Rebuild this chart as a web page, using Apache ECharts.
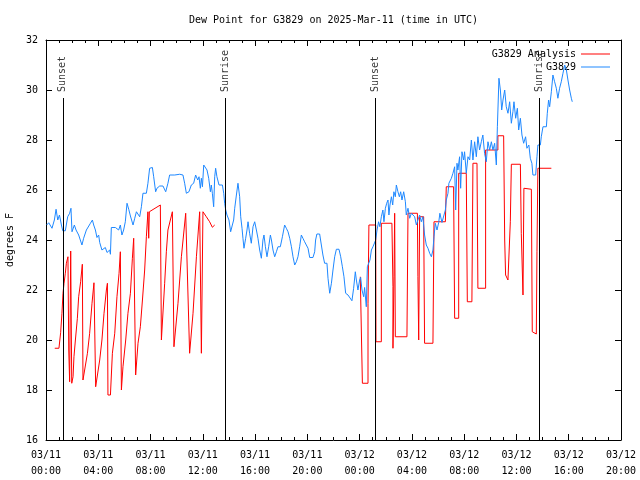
<!DOCTYPE html>
<html>
<head>
<meta charset="utf-8">
<script src="https://cdn.jsdelivr.net/npm/echarts@6/dist/echarts.min.js"></script>
<style>html,body{margin:0;padding:0;background:#fff}#c{width:640px;height:480px}</style>
</head>
<body>
<div id="c"></div>
<script>
// Hours since 2025-03-11 00:00 UTC, dew point in degrees F
const titleText = 'Dew Point for G3829 on 2025-Mar-11 (time in UTC)';
const seriesNames = ['G3829 Analysis', 'G3829'];
const xTicks = { min: 0, max: 44, step: 4 };
const yTicks = { min: 16, max: 32, step: 2 };
const sunEventHours = [1.30, 13.75, 25.23, 37.78];
const sunEventNames = ['Sunset', 'Sunrise', 'Sunset', 'Sunrise'];

const observed = [[0.05,24.6],[0.21,24.69],[0.46,24.47],[0.64,24.8],[0.77,25.23],[0.90,24.8],[1.03,25.0],[1.18,24.6],[1.28,24.37],[1.48,24.37],[1.66,24.93],[1.81,25.07],[1.91,25.27],[1.99,24.33],[2.17,24.6],[2.30,24.4],[2.50,24.2],[2.75,23.8],[2.88,24.07],[3.09,24.4],[3.40,24.67],[3.55,24.8],[3.65,24.6],[3.78,24.4],[3.90,24.1],[4.03,24.2],[4.11,23.9],[4.28,23.6],[4.54,23.7],[4.67,23.5],[4.87,23.6],[4.93,23.43],[5.00,24.5],[5.31,24.5],[5.56,24.4],[5.69,24.6],[5.81,24.2],[5.94,24.4],[6.07,24.73],[6.20,25.47],[6.33,25.23],[6.46,24.96],[6.66,24.6],[6.79,24.87],[6.92,25.13],[7.04,25.07],[7.17,24.93],[7.30,25.33],[7.42,25.87],[7.68,25.87],[7.80,26.27],[7.93,26.87],[8.14,26.9],[8.24,26.53],[8.39,25.93],[8.49,26.07],[8.70,26.16],[8.95,26.16],[9.16,25.93],[9.33,26.27],[9.46,26.6],[9.85,26.6],[10.23,26.63],[10.48,26.6],[10.61,26.27],[10.74,25.87],[10.94,25.93],[11.12,26.2],[11.30,26.27],[11.45,26.6],[11.61,26.4],[11.71,26.53],[11.81,26.07],[11.89,26.47],[11.97,26.13],[12.07,27.0],[12.22,27.0],[12.32,26.8],[12.45,26.47],[12.58,25.93],[12.65,26.2],[12.73,25.87],[12.83,25.33],[12.91,26.53],[12.98,26.87],[13.08,26.53],[13.24,26.2],[13.50,26.2],[13.60,25.87],[13.67,25.47],[13.75,25.2],[13.85,25.0],[14.00,24.8],[14.13,24.33],[14.26,24.6],[14.36,24.8],[14.44,25.27],[14.57,25.8],[14.69,26.27],[14.82,25.73],[14.90,24.93],[15.00,24.47],[15.07,24.07],[15.15,23.67],[15.28,24.07],[15.38,24.4],[15.46,24.73],[15.58,24.27],[15.71,23.87],[15.84,24.53],[15.97,24.73],[16.10,24.4],[16.22,24.07],[16.35,23.6],[16.48,23.27],[16.60,24.0],[16.68,24.2],[16.79,23.73],[16.91,23.33],[17.04,23.73],[17.17,24.2],[17.25,24.0],[17.37,23.6],[17.50,23.33],[17.63,23.53],[17.75,23.73],[17.93,23.73],[18.09,24.13],[18.26,24.6],[18.39,24.47],[18.52,24.33],[18.65,24.07],[18.78,23.73],[18.90,23.33],[19.03,23.0],[19.16,23.13],[19.28,23.33],[19.41,23.73],[19.54,24.2],[19.66,24.07],[19.79,23.93],[19.92,23.8],[20.05,23.67],[20.18,23.3],[20.43,23.3],[20.56,23.53],[20.63,24.0],[20.73,24.24],[20.94,24.24],[21.07,23.8],[21.19,23.4],[21.32,23.07],[21.50,23.07],[21.58,22.47],[21.71,21.87],[21.84,22.27],[21.96,22.8],[22.09,23.33],[22.22,23.63],[22.42,23.63],[22.55,23.33],[22.68,22.93],[22.80,22.53],[22.93,21.87],[23.11,21.8],[23.24,21.73],[23.41,21.57],[23.54,22.07],[23.67,22.73],[23.75,22.4],[23.87,22.0],[24.00,22.4],[24.08,22.5],[24.18,22.0],[24.31,21.73],[24.38,22.1],[24.51,21.33],[24.59,22.93],[24.71,22.87],[24.79,23.2],[24.90,23.6],[25.02,23.73],[25.15,23.73],[25.23,24.0],[25.33,24.4],[25.45,24.73],[25.55,24.53],[25.66,24.93],[25.78,25.2],[25.86,24.73],[25.97,25.27],[26.07,25.47],[26.17,25.6],[26.24,25.0],[26.32,25.4],[26.43,25.73],[26.53,25.4],[26.62,25.93],[26.73,25.73],[26.81,26.2],[26.93,25.93],[27.04,25.73],[27.14,25.93],[27.24,25.6],[27.37,25.93],[27.50,25.53],[27.57,25.0],[27.70,25.27],[27.83,24.87],[27.96,25.07],[28.08,25.13],[28.21,24.93],[28.34,24.6],[28.46,24.8],[28.59,25.0],[28.72,24.73],[28.84,24.93],[28.97,24.2],[29.10,23.8],[29.23,23.67],[29.36,23.47],[29.49,23.33],[29.61,23.6],[29.69,24.13],[29.79,24.67],[29.92,24.4],[30.05,24.7],[30.14,25.07],[30.30,24.7],[30.45,24.7],[30.56,25.2],[30.63,25.6],[30.76,25.87],[30.83,26.27],[31.02,26.47],[31.14,26.67],[31.27,26.93],[31.35,25.2],[31.45,27.07],[31.52,26.8],[31.65,27.33],[31.73,26.07],[31.83,27.53],[31.96,27.2],[32.03,27.53],[32.16,26.67],[32.29,27.33],[32.42,27.2],[32.55,28.0],[32.67,27.2],[32.80,27.93],[32.93,27.33],[33.05,28.13],[33.18,27.6],[33.31,27.93],[33.43,28.2],[33.56,27.47],[33.69,27.13],[33.82,27.93],[33.95,27.6],[34.08,27.93],[34.20,27.6],[34.33,27.87],[34.46,27.0],[34.54,28.53],[34.66,30.47],[34.77,30.0],[34.87,29.2],[34.97,29.6],[35.10,30.0],[35.22,29.33],[35.35,29.07],[35.48,29.53],[35.61,28.67],[35.73,29.13],[35.81,29.53],[35.94,28.87],[36.07,29.27],[36.17,28.4],[36.30,28.87],[36.42,28.2],[36.55,27.87],[36.70,28.13],[36.80,27.67],[36.95,27.8],[37.06,27.27],[37.18,27.07],[37.26,26.6],[37.47,26.6],[37.57,27.33],[37.64,27.8],[37.83,27.8],[37.90,28.13],[38.03,28.53],[38.29,28.53],[38.36,29.07],[38.46,29.6],[38.54,29.33],[38.67,29.93],[38.79,30.6],[38.92,30.33],[39.05,30.07],[39.17,29.67],[39.30,30.07],[39.43,30.33],[39.56,30.67],[39.69,31.0],[39.82,30.8],[39.94,30.4],[40.07,30.0],[40.20,29.67],[40.27,29.53]];

const analysisDay1 = [[0.67,19.67],[0.99,19.67],[1.12,20.29],[1.22,21.07],[1.30,21.87],[1.38,22.27],[1.48,22.67],[1.56,23.07],[1.68,23.33],[1.74,19.6],[1.81,18.33],[1.89,23.56],[1.97,18.27],[2.07,18.53],[2.14,19.33],[2.25,20.0],[2.40,20.87],[2.50,21.73],[2.65,22.33],[2.78,23.03],[2.83,18.4],[2.98,18.4],[3.17,19.47],[3.34,20.27],[3.52,21.47],[3.67,22.29],[3.80,18.13],[3.93,18.13],[4.11,19.2],[4.28,20.0],[4.44,21.07],[4.62,22.0],[4.70,22.27],[4.74,17.8],[4.93,17.8],[5.08,19.47],[5.26,20.27],[5.43,21.73],[5.59,22.67],[5.69,23.53],[5.77,18.0],[5.89,18.93],[6.10,20.0],[6.27,21.07],[6.46,21.87],[6.61,23.27],[6.71,24.07],[6.86,18.6],[7.04,19.87],[7.22,20.53],[7.38,21.6],[7.55,22.8],[7.68,24.13],[7.80,25.13],[7.86,24.07],[7.91,25.13],[8.75,25.4],[8.83,20.0],[9.08,22.27],[9.21,23.53],[9.33,24.4],[9.67,25.13],[9.79,19.73],[10.10,21.47],[10.36,23.33],[10.69,25.07],[10.79,25.13],[10.99,19.47],[11.25,21.07],[11.51,23.33],[11.76,25.13],[11.89,19.47],[12.01,25.13],[12.27,24.93],[12.52,24.73],[12.73,24.51],[12.91,24.6]];

const analysisDay2 = [[24.05,22.53],[24.13,22.53],[24.13,20.4],[24.21,20.4],[24.21,18.27],[24.64,18.27],[24.64,21.47],[24.71,24.6],[25.23,24.6],[25.25,19.93],[25.66,19.93],[25.66,24.67],[26.47,24.67],[26.55,22.13],[26.55,19.67],[26.63,22.53],[26.68,25.07],[26.73,20.13],[27.62,20.13],[27.70,25.07],[28.42,25.07],[28.46,22.53],[28.52,20.0],[28.59,24.93],[28.90,24.93],[28.97,19.87],[29.61,19.87],[29.69,24.73],[30.56,24.73],[30.63,26.13],[31.19,26.13],[31.27,20.87],[31.58,20.87],[31.58,26.67],[32.16,26.67],[32.24,21.53],[32.59,21.53],[32.67,27.07],[32.98,27.07],[33.05,22.07],[33.64,22.07],[33.64,27.6],[34.58,27.6],[34.58,28.17],[35.02,28.17],[35.10,24.0],[35.17,22.6],[35.35,22.4],[35.53,24.73],[35.61,27.03],[36.30,27.03],[36.37,24.27],[36.50,21.8],[36.57,26.07],[37.14,26.03],[37.21,20.33],[37.52,20.24],[37.57,23.53],[37.64,26.87],[38.67,26.87]];

const FONT = 'DejaVu Sans Mono';
const lineTop = 29.68;     // where the sun event lines end
const labelBase = 29.9;    // where the sun event labels start

function fmtX(v) {
  const day = 11 + Math.floor(v / 24);
  const hr = v % 24;
  const p = n => (n < 10 ? '0' : '') + n;
  return '03/' + p(day) + '\n' + p(hr) + ':00';
}

const analysis = analysisDay1.concat([[18, '-']], analysisDay2);

const chart = echarts.init(document.getElementById('c'), null, { renderer: 'canvas' });

const axisCommon = {
  type: 'value',
  axisLine: { show: true, onZero: false, lineStyle: { color: '#000', width: 1 } },
  axisTick: { show: true, inside: true, length: 6, lineStyle: { color: '#000' } },
  splitLine: { show: false }
};

const legendCommon = {
  orient: 'vertical', right: 30, align: 'right', icon: 'rect',
  padding: 0, itemWidth: 29, itemHeight: 1, itemGap: 0, selectedMode: false,
  textStyle: { fontFamily: FONT, fontSize: 10, color: '#000' }
};

const option = {
  animation: false,
  backgroundColor: '#ffffff',
  textStyle: { fontFamily: FONT },
  title: {
    text: titleText,
    left: 184, top: 10,
    textStyle: { fontFamily: FONT, fontSize: 10, fontWeight: 'normal', color: '#000' }
  },
  legend: [
    Object.assign({}, legendCommon, { data: [seriesNames[0]], top: 49 }),
    Object.assign({}, legendCommon, { data: [seriesNames[1]], top: 62 })
  ],
  grid: { left: 46, right: 19, top: 40, bottom: 40, containLabel: false, outerBoundsMode: 'none' },
  xAxis: [
    Object.assign({}, axisCommon, {
      position: 'bottom', min: xTicks.min, max: xTicks.max, interval: xTicks.step,
      minorTick: { show: true, splitNumber: 4, length: 3, lineStyle: { color: '#000' } },
      axisLabel: { formatter: fmtX, color: '#000', fontFamily: FONT, fontSize: 10, margin: 7, lineHeight: 16 }
    }),
    Object.assign({}, axisCommon, {
      position: 'top', min: xTicks.min, max: xTicks.max, interval: xTicks.step,
      minorTick: { show: true, splitNumber: 4, length: 3, lineStyle: { color: '#000' } },
      axisLabel: { show: false }
    })
  ],
  yAxis: [
    Object.assign({}, axisCommon, {
      position: 'left', min: yTicks.min, max: yTicks.max, interval: yTicks.step,
      name: 'degrees F', nameLocation: 'middle', nameGap: 31,
      nameTextStyle: { fontFamily: FONT, fontSize: 10, color: '#000' },
      axisLabel: { color: '#000', fontFamily: FONT, fontSize: 10, margin: 8 }
    }),
    Object.assign({}, axisCommon, {
      position: 'right', min: yTicks.min, max: yTicks.max, interval: yTicks.step,
      axisLabel: { show: false }
    })
  ],
  series: [
    {
      name: seriesNames[0], type: 'line', data: analysis,
      symbol: 'none', connectNulls: false,
      lineStyle: { color: '#ff0000', width: 1 }, itemStyle: { color: '#ff0000' },
      z: 3
    },
    {
      name: seriesNames[1], type: 'line', data: observed,
      symbol: 'none',
      lineStyle: { color: '#1e88ff', width: 1 }, itemStyle: { color: '#1e88ff' },
      z: 4
    },
    {
      name: 'sun', type: 'scatter', symbolSize: 1, silent: true,
      itemStyle: { color: 'rgba(0,0,0,0)' },
      data: sunEventHours.map((h, i) => ({ value: [h, labelBase], name: sunEventNames[i] })),
      label: {
        show: true, position: [0, 0], rotate: 90, align: 'left', verticalAlign: 'middle',
        formatter: p => p.name, fontFamily: FONT, fontSize: 10, color: '#000'
      },
      markLine: {
        silent: true, symbol: 'none', animation: false,
        label: { show: false },
        lineStyle: { color: '#000', width: 1, type: 'solid' },
        data: sunEventHours.map(h => [{ coord: [h, yTicks.min] }, { coord: [h, lineTop] }])
      },
      z: 5
    }
  ]
};
chart.setOption(option);
</script>
</body>
</html>
